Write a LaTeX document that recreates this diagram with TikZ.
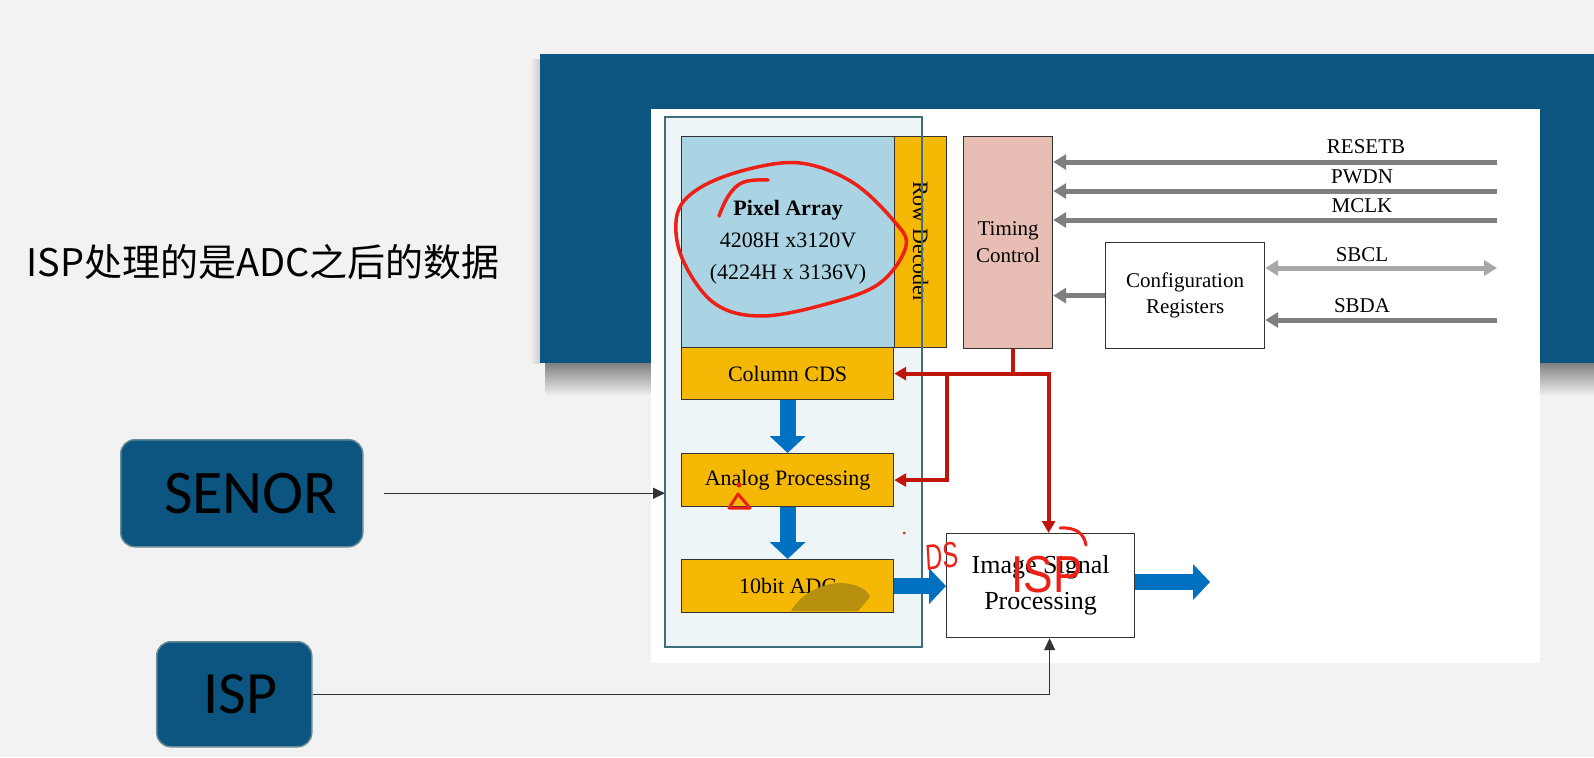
\documentclass[tikz,border=0pt]{standalone}
\usepackage{fontspec}
\setmainfont{Liberation Serif}
\newfontfamily\cjkfont{Noto Sans CJK SC}
\newfontfamily\tagfont{Carlito}
\newfontfamily\penfont{Liberation Sans}
\usetikzlibrary{arrows.meta,calc}

\definecolor{pagebg}{HTML}{F2F2F2}
\definecolor{banner}{HTML}{0B5580}
\definecolor{pixblue}{HTML}{AAD4E4}
\definecolor{amber}{HTML}{F5B905}
\definecolor{rose}{HTML}{E8BDB4}
\definecolor{frameteal}{HTML}{3F6F7A}
\definecolor{framefill}{HTML}{EEF5F7}
\definecolor{flowblue}{HTML}{0070C0}
\definecolor{ctlred}{HTML}{C0150A}
\definecolor{penRed}{HTML}{EE2015}
\definecolor{sigGray}{HTML}{7F7F7F}
\definecolor{sigLight}{HTML}{A8A8A8}
\definecolor{smudge}{HTML}{B8900F}

\begin{document}
\begin{tikzpicture}[x=1pt, y=-1pt,
    blk/.style={draw=black!80, line width=1.2pt, anchor=north west, inner sep=0pt, align=center, font=\fontsize{22}{32}\selectfont},
    tagbox/.style={rounded corners=14pt, fill=banner, draw=frameteal!80, line width=1.5pt, anchor=north west, inner sep=0pt},
    sigline/.style={draw=sigGray, line width=5pt, -{Triangle[width=15pt,length=13pt]}},
    dataflow/.style={draw=flowblue, line width=16pt, -{Triangle[width=35pt,length=17pt]}},
    ctlline/.style={draw=ctlred, line width=4pt, -{Triangle[width=13pt,length=12pt]}},
    wire/.style={draw=black!80, line width=1pt, -{Triangle[width=11pt,length=12pt]}},
    sigtag/.style={font=\fontsize{21}{24}\selectfont, inner sep=1pt},
    redpen/.style={draw=penRed, line width=3.5pt, line cap=round, line join=round}]

    % Page, banner and white panel
    \fill[pagebg] (0,0) rectangle (1594,757);
    \useasboundingbox (0,0) rectangle (1594,757);
    \shade[top color=black!50, bottom color=pagebg] (545,363) rectangle (1594,396);
    \shade[left color=pagebg, right color=black!20] (530,60) rectangle (540,363);
    \fill[banner] (540,54) rectangle (1594,363);
    \fill[white] (651,109) rectangle (1540,663);

    % Note on the left
    \node[font=\cjkfont\fontsize{38}{42}\selectfont] (note) at (263,262) {ISP处理的是ADC之后的数据};

    % Sensor frame
    \node[fill=framefill, anchor=north west, inner sep=0pt, minimum width=257pt, minimum height=530pt] (sensorbox) at (665,117) {};

    % Blocks of the sensor
    \node[blk, fill=pixblue, minimum width=213pt, minimum height=211pt] (pixel) at (681,136)
        {\textbf{Pixel Array}\\4208H x3120V\\(4224H x 3136V)};
    \node[blk, fill=amber, minimum width=52pt, minimum height=211pt,
        label={[rotate=-90, font=\fontsize{22}{26}\selectfont]center:Row Decoder}] (rowdec) at (894,136) {};
    \node[blk, fill=amber, minimum width=212pt, minimum height=52pt] (colcds) at (681,347) {Column CDS};
    \node[blk, fill=amber, minimum width=212pt, minimum height=53pt] (analog) at (681,453) {Analog Processing};
    \node[blk, fill=amber, minimum width=212pt, minimum height=53pt] (adc) at (681,559) {10bit ADC};
    \node[blk, fill=rose, minimum width=89pt, minimum height=212pt, font=\fontsize{21}{27}\selectfont] (timing) at (963,136) {Timing\\Control};
    \node[blk, fill=white, minimum width=159pt, minimum height=106pt, font=\fontsize{21}{26}\selectfont] (config) at (1105,242) {Configuration\\Registers};
    \node[blk, fill=white, minimum width=188pt, minimum height=104pt, font=\fontsize{26}{36}\selectfont] (isp) at (946,533) {Image Signal\\Processing};
    \draw[frameteal, line width=2pt] (sensorbox.north west) rectangle (sensorbox.south east);

    % Smudge over the ADC
    \fill[smudge] (791,611) .. controls (800,595) and (820,583) .. (842,583) .. controls (858,584) and (868,590) .. (870,597) -- (858,611) -- cycle;

    % Tags on the left
    \node[tagbox, minimum width=242pt, minimum height=107pt,
        label={[xshift=9pt, font=\tagfont\fontsize{62}{62}\selectfont]center:SENOR}] (senor) at (120,439) {};
    \node[tagbox, minimum width=155pt, minimum height=105pt,
        label={[xshift=6pt, font=\tagfont\fontsize{60}{60}\selectfont]center:ISP}] (ispbox) at (156,641) {};

    % Input pins
    \node[sigtag] (lrst) at (1366,147) {RESETB};
    \node[sigtag] (lpwd) at (1362,177) {PWDN};
    \node[sigtag] (lmck) at (1362,206) {MCLK};
    \node[sigtag] (lscl) at (1362,255) {SBCL};
    \node[sigtag] (lsda) at (1362,306) {SBDA};
    \coordinate (rst) at (1497,162);
    \coordinate (pwd) at (1497,191);
    \coordinate (mck) at (1497,220);
    \coordinate (scl) at (1497,268);
    \coordinate (sda) at (1497,320);
    \draw[sigline] (rst) -- (rst -| timing.east);
    \draw[sigline] (pwd) -- (pwd -| timing.east);
    \draw[sigline] (mck) -- (mck -| timing.east);
    \draw[sigline] (config.west) -- (config.west -| timing.east);
    \draw[sigline, draw=sigLight, {Triangle[width=15pt,length=13pt]}-{Triangle[width=15pt,length=13pt]}] (scl -| config.east) -- (scl);
    \draw[sigline] (sda) -- (sda -| config.east);

    % Data path
    \draw[dataflow] (colcds.south) -- (analog.north);
    \draw[dataflow] (analog.south) -- (adc.north);
    \draw[dataflow] (adc.east) -- (adc.east -| isp.west);
    \coordinate (out) at (1210,582);
    \draw[dataflow] (isp.east |- out) -- (out);

    % Control lines from timing
    \coordinate (stub) at ([xshift=5pt]timing.south);
    \coordinate (bus) at (stub |- colcds.east);
    \draw[ctlline] (stub) |- (colcds.east);
    \draw[ctlline] (bus) -| ([xshift=8pt]isp.north);
    \draw[ctlline] (bus -| rowdec.east) |- (analog.east);

    % Links from the tags
    \draw[wire] ([xshift=20pt]senor.east) -- (senor.east -| sensorbox.west);
    \draw[wire] (ispbox.east) -| ([xshift=9pt]isp.south);

    % Red pen marks
    \draw[redpen] plot[smooth, tension=0.7] coordinates {(719,216) (729,195) (744,182) (768,180)};
    \draw[redpen] plot[smooth cycle, tension=0.6] coordinates {(800,163) (852,182) (893,220) (906,246) (880,283) (830,303) (762,316) (714,303) (682,258) (677,215) (698,189) (745,170)};
    \draw[redpen, line width=3pt] (738,494) -- (729,508) -- (750,508) -- cycle;
    \fill[penRed] (739,485) circle (2.5);
    \fill[penRed] (904,533) circle (1.5);
    \node[text=penRed, font=\penfont\fontsize{36}{36}\selectfont, xscale=0.65, rotate=5] (markds) at (942,556) {DS};
    \node[text=penRed, font=\penfont\fontsize{52}{52}\selectfont, xscale=0.85] (markisp) at (1047,575) {ISP};
    \draw[redpen, line width=3pt] (1060,528) .. controls (1075,527) and (1084,533) .. (1086,545);

\end{tikzpicture}
\end{document}
